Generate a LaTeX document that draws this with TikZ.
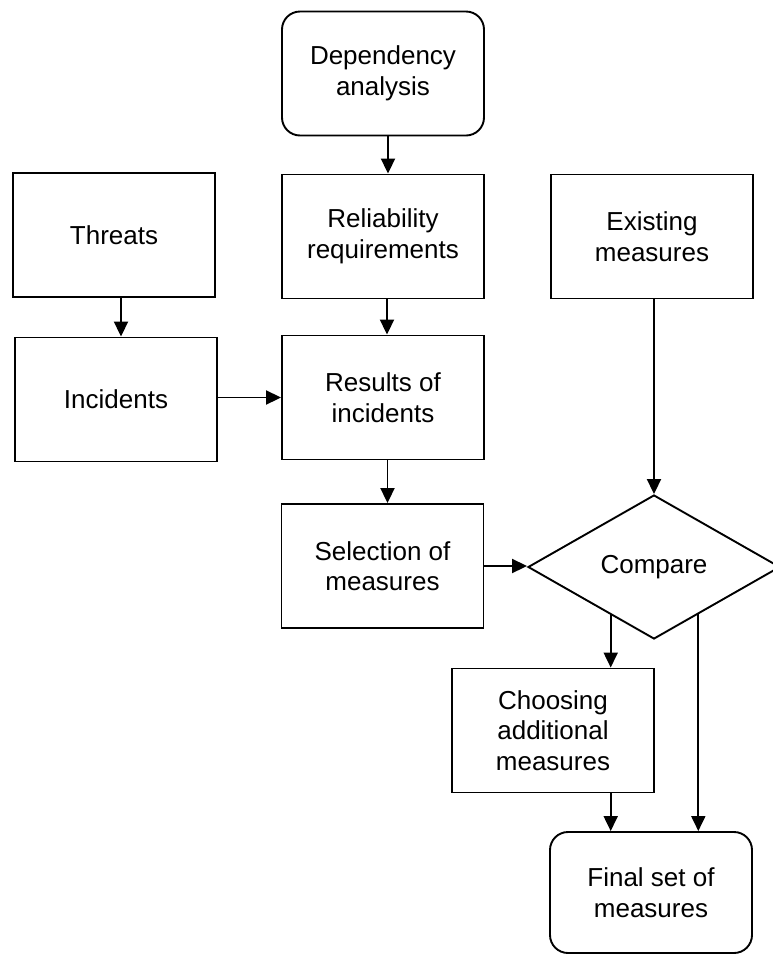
\documentclass[tikz,border=0pt]{standalone}
\usepackage{fontspec}
\setmainfont{Liberation Sans}
\usetikzlibrary{shapes.geometric,arrows.meta,calc}
\begin{document}
\begin{tikzpicture}[x=1pt,y=-1pt,
  every node/.style={font=\fontsize{26}{30.5}\selectfont, align=center},
  box/.style={draw, line width=1.9pt, minimum width=202pt, minimum height=124pt, inner sep=0pt},
  rbox/.style={box, rounded corners=18pt},
  decision/.style={diamond, draw, line width=1.9pt, minimum width=252pt, minimum height=144pt, inner sep=0pt},
  flow/.style={line width=1.9pt, -{Triangle[length=15pt,width=14pt]}}]
\useasboundingbox (0,0) rectangle (773,954);

% process steps
\node[rbox] (dep) at (383,73.5)  {Dependency\\analysis};
\node[box]  (rel) at (383,236.5) {Reliability\\requirements};
\node[box]  (thr) at (114,235)   {Threats};
\node[box]  (ex)  at (652,236.5) {Existing\\measures};
\node[box]  (inc) at (116,399.5) {Incidents};
\node[box]  (res) at (383,397.5) {Results of\\incidents};
\node[box]  (sel) at (382.5,566) {Selection of\\measures};
\node[decision] (cmp) at (654,567) {Compare};
\node[box]  (cho) at (553,730.5) {Choosing\\additional\\measures};
\node[rbox, minimum height=121pt] (fin) at (651,892.5) {Final set of\\measures};

% exits from the lower edges of the decision
\coordinate (lo) at ($(cmp.west)!0.659!(cmp.south)$);
\coordinate (ro) at ($(cmp.south)!0.349!(cmp.east)$);

% connectors
\draw[flow] ([xshift=5pt]dep.south) -- ([xshift=5pt]rel.north);
\draw[flow] ([xshift=4pt]rel.south) -- ([xshift=4pt]res.north);
\draw[flow] ([xshift=4.5pt]res.south) -- ([xshift=4.5pt]res.south |- sel.north);
\draw[flow] ([xshift=7pt]thr.south) -- ([xshift=7pt]thr.south |- inc.north);
\draw[flow] (inc.east |- res.west) -- (res.west);
\draw[flow] (sel.east) -- (sel.east -| cmp.west);
\draw[flow] (ex.south -| cmp.north) -- (cmp.north);
\draw[flow] (lo) -- (lo |- cho.north);
\draw[flow] (lo |- cho.south) -- (lo |- fin.north);
\draw[flow] (ro) -- (ro |- fin.north);
\end{tikzpicture}
\end{document}
